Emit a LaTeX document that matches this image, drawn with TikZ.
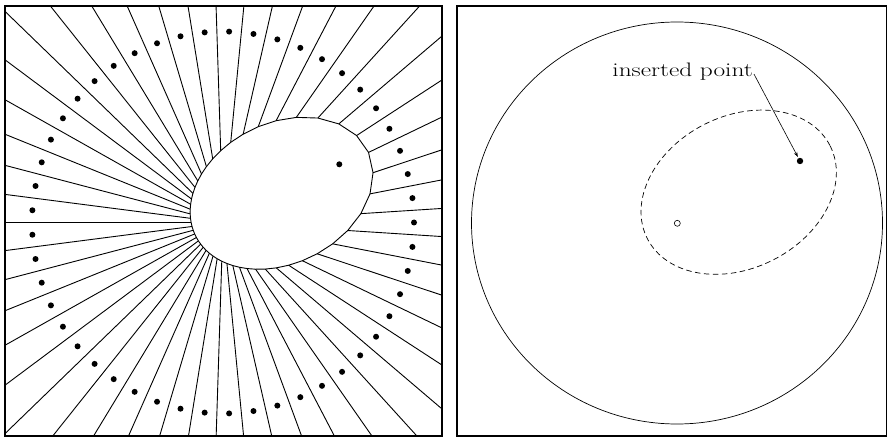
\documentclass[tikz,border=0pt]{standalone}
\usepackage{graphicx}
\usetikzlibrary{calc,arrows.meta}
\begin{document}
\begin{tikzpicture}[x=10pt,y=-10pt,
  ray/.style={line width=0.9pt},
  frame/.style={line width=1.7pt},
  thin curve/.style={line width=0.7pt},
  dashcurve/.style={line width=0.7pt, dash pattern=on 5.5pt off 3.5pt},
  pointer/.style={line width=0.6pt, -{Stealth[length=5pt,width=3.5pt]}, shorten >=1.2pt},
  opendot/.style={draw, circle, inner sep=0pt, minimum size=6pt, line width=0.6pt},
  fulldot/.style={fill, circle, inner sep=0pt, minimum size=6.4pt},
  txtlabel/.style={anchor=base east, inner sep=0pt, font=\fontsize{19.5}{22}\selectfont}]
\useasboundingbox (0,0) rectangle (89.1,43.8);
% ---------------- left panel ----------------
% ring centre O, radius R, inserted point P = O + (Px, -Pu)
\def\Ox{22.3}\def\Oy{22.25}\def\R{19.1}\def\Px{11.63}\def\Pu{5.82}
\def\dA{7.3469388}
\coordinate (O) at (\Ox,\Oy);
\pgfmathsetmacro\mynum{\R*\R-\Px*\Px-\Pu*\Pu}
\pgfmathsetmacro\Rc{\R*cos(\dA/2)}
\foreach \i in {0,...,48}{
  \pgfmathsetmacro\ph{(\i+0.5)*\dA}
  \pgfmathsetmacro\tv{\mynum/(2*(\Rc-\Px*cos(\ph)+\Pu*sin(\ph)))}
  \coordinate (V\i) at ($(O)+(\ph:\tv)$);
  \coordinate (W\i) at ($(O)+(\ph:40)$);
}
\begin{scope}
  \clip (0.5,0.6) rectangle (44.17,43.6);
  \foreach \i in {0,...,48}{\draw[ray] (V\i) -- (W\i);}
\end{scope}
\draw[ray] (V0) \foreach \i in {1,...,48}{ -- (V\i)} -- cycle;
\foreach \i in {0,...,48}{\fill ($(O)+(\i*\dA:\R)$) circle (0.3);}
\coordinate (P) at (33.93,16.43);
\fill (P) circle (0.3);
\draw[frame] (0.5,0.6) rectangle (44.17,43.6);
% ---------------- right panel ----------------
\draw[frame] (45.73,0.6) rectangle (88.65,43.6);
\draw[thin curve] (67.7,22.3) ellipse [x radius=20.55, y radius=20.1];
\draw[dashcurve, rotate around={26.9:(73.87,19.22)}] (73.87,19.22) ellipse [x radius=10.25, y radius=7.6];
\node[opendot] (o2) at (67.73,22.33) {};
\node[fulldot] (ins) at (80.0,16.1) {};
\node[txtlabel] (lbl) at (75.3,7.7) {\scalebox{1.3}[1]{inserted point}};
\draw[pointer] ([xshift=1pt,yshift=-2pt]lbl.east) -- (ins);
\end{tikzpicture}
\end{document}
